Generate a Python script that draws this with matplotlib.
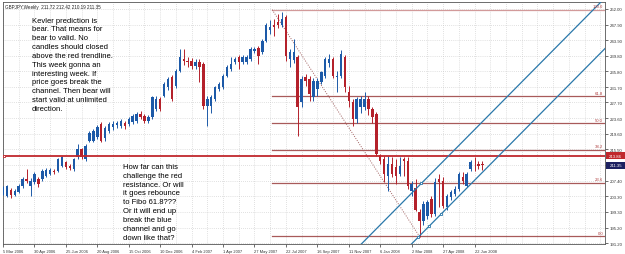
import matplotlib
matplotlib.use("Agg")
import matplotlib.pyplot as plt
import matplotlib.transforms as mtransforms
from matplotlib.patches import Rectangle
import numpy as np

# weekly GBPJPY candles (week 0 = 5 Mar 2006)
opens = [204.0, 203.5, 205.0, 203.8, 204.5, 206.0, 207.8, 206.1, 207.0, 207.8,
         207.8, 208.7, 209.1, 210.0, 210.0, 211.3, 212.2, 211.3, 210.4, 213.5,
         215.6, 213.0, 217.8, 217.8, 218.7, 222.1, 218.5, 220.3, 221.3, 221.9,
         221.7, 222.4, 222.1, 222.6, 223.0, 224.7, 224.3, 223.0, 223.9, 226.0,
         228.6, 229.5, 231.7, 234.3, 232.1, 236.0, 239.0, 238.6, 238.6, 237.3,
         238.2, 237.7, 226.7, 226.9, 228.6, 231.2, 231.7, 234.7, 236.4, 238.2,
         239.4, 238.2, 238.2, 239.0, 241.2, 241.8, 240.7, 243.8, 246.6, 247.9,
         248.5, 247.9, 249.8, 239.0, 238.8, 239.4, 227.9, 234.2, 233.8, 229.0,
         231.2, 233.1, 234.7, 238.0, 239.0, 234.3, 234.5, 239.5, 230.4, 227.8,
         223.4, 226.5, 226.5, 228.6, 226.0, 224.7, 214.0, 213.0, 208.7, 211.7,
         210.9, 209.1, 213.0, 212.6, 204.8, 205.5, 199.2, 197.0, 198.3, 202.6,
         198.8, 207.8, 207.4, 200.5, 203.1, 203.9, 205.2, 208.3, 206.1, 210.4,
         211.8, 211.8, 211.72]
highs = [206.0, 206.3, 205.5, 205.3, 206.5, 208.3, 210.4, 208.0, 209.6, 208.3,
         210.5, 210.6, 210.6, 210.5, 213.4, 213.9, 212.6, 211.8, 213.4, 216.9,
         216.0, 217.0, 220.3, 220.8, 221.8, 222.6, 221.5, 222.6, 223.0, 223.0,
         223.5, 223.0, 224.0, 224.8, 225.2, 225.5, 224.8, 224.5, 229.5, 229.3,
         229.0, 233.0, 234.3, 234.8, 236.5, 241.6, 241.6, 239.5, 239.2, 239.0,
         239.0, 238.2, 229.5, 229.6, 232.0, 233.0, 235.2, 237.4, 239.4, 239.5,
         240.0, 240.0, 240.0, 242.0, 242.2, 242.3, 244.3, 248.3, 249.0, 249.4,
         250.7, 251.1, 250.5, 241.5, 244.2, 240.0, 234.5, 235.0, 234.5, 234.0,
         234.0, 236.0, 239.5, 240.3, 239.5, 236.0, 241.3, 240.0, 232.0, 228.5,
         229.0, 229.5, 230.4, 229.5, 226.5, 225.2, 214.3, 213.9, 213.9, 213.5,
         213.0, 213.5, 213.5, 213.5, 207.4, 207.8, 200.0, 202.0, 202.5, 203.5,
         208.0, 209.1, 208.3, 204.0, 205.0, 206.0, 209.6, 209.6, 209.6, 212.8,
         213.5, 212.5, 212.42]
lows = [203.6, 203.1, 203.0, 203.4, 204.2, 205.6, 206.8, 203.5, 206.6, 205.7,
        207.3, 208.3, 208.8, 209.2, 209.6, 210.9, 210.5, 210.2, 209.9, 213.0,
        213.1, 212.6, 217.4, 217.4, 218.3, 217.4, 217.8, 219.8, 220.5, 221.0,
        221.0, 220.8, 221.5, 222.0, 222.5, 223.3, 222.4, 222.5, 223.4, 225.5,
        225.5, 229.0, 231.0, 228.0, 231.5, 235.5, 237.5, 237.0, 236.5, 236.5,
        233.0, 225.9, 221.6, 225.0, 228.0, 230.6, 231.2, 234.2, 235.9, 237.6,
        236.5, 237.6, 237.6, 238.5, 240.6, 237.7, 240.2, 243.3, 245.5, 245.0,
        247.0, 247.2, 238.5, 237.0, 238.0, 219.1, 226.5, 232.0, 228.2, 228.2,
        229.5, 232.5, 234.0, 237.0, 234.0, 230.4, 234.0, 230.5, 226.5, 221.6,
        222.5, 225.0, 225.8, 224.5, 222.5, 213.9, 211.7, 207.0, 204.8, 208.3,
        206.5, 208.7, 208.7, 205.2, 203.5, 199.6, 192.8, 196.0, 197.5, 198.0,
        198.3, 200.5, 200.3, 199.8, 202.5, 203.3, 204.8, 206.5, 205.8, 210.0,
        210.0, 210.4, 210.19]
closes = [205.5, 205.9, 203.6, 204.8, 206.1, 207.8, 207.3, 207.4, 209.1, 206.5,
          210.0, 210.2, 210.2, 209.6, 213.0, 213.5, 210.9, 210.7, 213.0, 215.6,
          213.5, 216.5, 219.9, 220.4, 221.3, 217.8, 221.0, 222.0, 222.1, 222.4,
          223.0, 221.5, 223.4, 224.3, 224.7, 223.9, 223.0, 223.9, 229.0, 228.6,
          226.0, 232.5, 233.8, 228.6, 236.0, 239.4, 238.6, 238.2, 237.3, 238.2,
          236.8, 226.9, 228.6, 229.1, 231.6, 232.5, 234.7, 236.9, 237.7, 239.0,
          238.2, 239.4, 239.4, 241.6, 241.6, 239.7, 243.8, 247.9, 247.3, 247.3,
          247.7, 249.4, 239.9, 240.7, 240.7, 226.5, 233.8, 233.4, 229.9, 233.4,
          233.4, 235.5, 239.0, 239.0, 234.7, 234.5, 240.3, 231.7, 228.2, 223.4,
          228.6, 228.6, 228.6, 226.0, 223.9, 214.3, 212.6, 209.1, 211.7, 209.1,
          208.7, 211.3, 212.4, 206.1, 206.5, 199.7, 197.0, 201.3, 201.8, 198.8,
          207.0, 207.0, 200.9, 203.5, 204.4, 205.2, 209.1, 207.4, 209.1, 212.2,
          211.6, 211.3, 211.35]

date_labels = ["5 Mar 2006", "30 Apr 2006", "25 Jun 2006", "20 Aug 2006",
               "15 Oct 2006", "10 Dec 2006", "4 Feb 2007", "1 Apr 2007",
               "27 May 2007", "22 Jul 2007", "16 Sep 2007", "11 Nov 2007",
               "6 Jan 2008", "2 Mar 2008", "27 Apr 2008", "22 Jun 2008"]
weeks_per_label = 8

price_ticks = [191.20, 195.20, 199.30, 203.30, 207.40, 211.40, 215.50, 219.60,
               223.60, 227.70, 231.70, 235.80, 239.80, 243.90, 247.90, 252.00]

fib_levels = [0.0, 23.6, 38.2, 50.0, 61.8, 100.0]
fib_high = (68.5, 251.8)   # week, price
fib_low = (106.0, 192.9)

resistance = 213.86
last_price = 211.35

channel_base = [(105.6, 192.65), (111.45, 198.68)]
channel_mid = (108.5, 195.6)
channel_top = (106.5, 206.73)

title = "GBPJPY,Weekly  211.72 212.42 210.19 211.35"
note_left = ("Kevler prediction is\nbear. That means for\nbear to valid. No\n"
             "candles should closed\nabove the red trendline.\nThis week gonna an\n"
             "interesting week. If\nprice goes break the\nchannel. Then bear will\n"
             "start valid at unlimited\ndirection.")
note_mid = ("How far can this\nchallenge the red\nresistance. Or will\n"
            "it goes rebounce\nto Fibo 61.8???\nOr it will end up\n"
            "break the blue\nchannel and go\ndown like that?")

plt.rcParams['font.family'] = ['Liberation Sans', 'DejaVu Sans']

bull = '#1d5aa8'
bear = '#b4212b'
fibc = '#a85a5a'
chan = '#2a78aa'

fig = plt.figure(figsize=(6.25, 2.55), dpi=100)
ax = fig.add_axes([3/625, 10/255, 602/625, 242/255])

o = np.array(opens); h = np.array(highs); l = np.array(lows); c = np.array(closes)
x = np.arange(len(o))
cols = np.where(c >= o, bull, bear)

ax.vlines(x, l, h, colors=cols, lw=0.7, zorder=3)
body = np.maximum(np.abs(c - o), 0.25)
ax.bar(x, body, bottom=np.minimum(o, c), width=0.62, color=cols, lw=0, zorder=4)

ax.set_xlim(0.0, 153.2)
ax.set_ylim(190.95, 253.8)

# grid
for yv in price_ticks:
    ax.axhline(yv, color='#c4c4c4', lw=0.5, ls=(0, (1, 2)), zorder=0)
for xv in np.arange(0, 154, 4):
    ax.axvline(xv, color='#c4c4c4', lw=0.5, ls=(0, (1, 2)), zorder=0)

trans = mtransforms.blended_transform_factory(ax.transAxes, ax.transData)

# fibonacci
fx0 = fib_high[0]
for lev in fib_levels:
    p = fib_low[1] + (fib_high[1] - fib_low[1]) * lev / 100
    lc = '#d29a9a' if lev == 100.0 else fibc
    ax.plot([fx0, 153.2], [p, p], color=lc, lw=0.9, zorder=2)
    ax.text(0.997, p + 0.4, "%.1f" % lev, transform=trans,
            ha='right', va='bottom', fontsize=3.1, color='#b04040', zorder=6)
ax.plot([fib_high[0], fib_low[0]], [fib_high[1], fib_low[1]], color='#a06060',
        lw=0.7, ls=(0, (1, 1.5)), zorder=2)

# red resistance
ax.axhline(resistance, color='#c0282d', lw=1.3, zorder=5)
ax.plot([0.15], [resistance], marker='s', ms=2, mfc='white', mec='#c0282d', mew=0.6,
        zorder=6, clip_on=False)

# channel
slope = (channel_base[1][1] - channel_base[0][1]) / (channel_base[1][0] - channel_base[0][0])
ax.axline(channel_base[0], slope=slope, color=chan, lw=0.9, zorder=5)
ax.axline(channel_top, slope=slope, color=chan, lw=0.9, zorder=5)
mx = [channel_base[0][0], channel_mid[0], channel_base[1][0], channel_top[0]]
my = [channel_base[0][1], channel_mid[1], channel_base[1][1], channel_top[1]]
ax.plot(mx, my, ls='none', marker='s', ms=2, mfc='white', mec=chan, mew=0.6, zorder=6)

# axes styling
ax.yaxis.tick_right()
ax.set_yticks(price_ticks)
ax.set_yticklabels(["%.2f" % v for v in price_ticks])
ax.set_xticks(np.arange(len(date_labels)) * weeks_per_label)
ax.set_xticklabels(date_labels, ha='left')
ax.tick_params(axis='both', labelsize=3.1, length=2, width=0.5, pad=1.5, colors='#333333')
ax.tick_params(axis='x', labelsize=2.9)
for s in ax.spines.values():
    s.set_linewidth(0.6)
    s.set_color('#555555')

# price boxes on the right scale
box_h = 1.8
for val, fc in [(last_price, '#1c2060'), (resistance, '#c0282d')]:
    ax.add_patch(Rectangle((1.002, val - box_h / 2), 0.031, box_h, transform=trans,
                           fc=fc, ec='none', clip_on=False, zorder=9))
    ax.text(1.0175, val, "%.2f" % val, transform=trans, ha='center', va='center',
            fontsize=3.1, color='white', zorder=10, clip_on=False)

ax.text(0.004, 0.993, title, transform=ax.transAxes, ha='left', va='top',
        fontsize=3.3, color='#222222', zorder=10)
ax.text(0.048, 0.94, note_left, transform=ax.transAxes, ha='left', va='top',
        fontsize=5.5, linespacing=1.37, color='black', zorder=10)
ax.text(0.2, 0.335, note_mid, transform=ax.transAxes, ha='left', va='top',
        fontsize=5.5, linespacing=1.37, color='black', zorder=10)

fig.savefig("out.png", dpi=100)
